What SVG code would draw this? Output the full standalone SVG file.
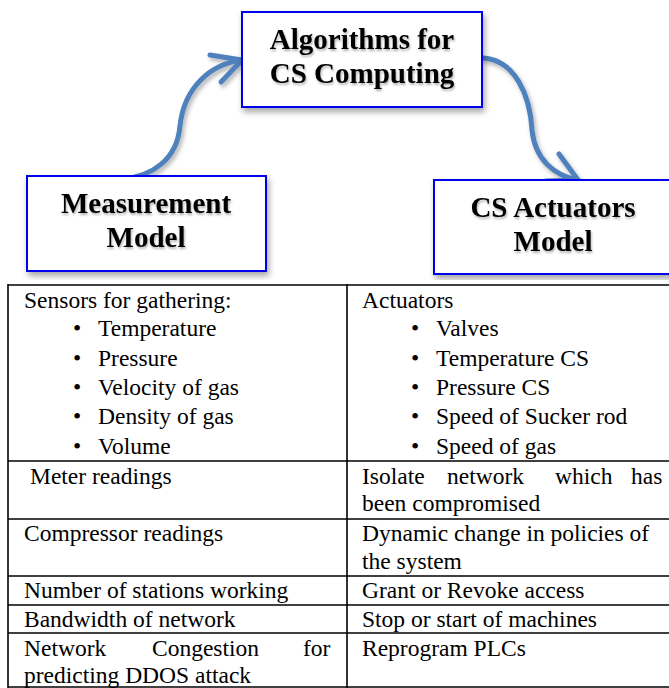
<svg xmlns="http://www.w3.org/2000/svg" width="669" height="688" viewBox="0 0 669 688">
  <defs>
    <filter id="boxShadow" x="-10%" y="-10%" width="125%" height="135%">
      <feDropShadow dx="2" dy="4" stdDeviation="3" flood-color="#000" flood-opacity="0.35"/>
    </filter>
    <filter id="lineShadow" x="-20%" y="-20%" width="140%" height="140%">
      <feDropShadow dx="2" dy="3" stdDeviation="2" flood-color="#000" flood-opacity="0.3"/>
    </filter>
    <filter id="textShadow" x="-5%" y="-20%" width="110%" height="150%">
      <feDropShadow dx="1" dy="2" stdDeviation="1.2" flood-color="#000" flood-opacity="0.3"/>
    </filter>
  </defs>
  <style>
    .box { fill: #ffffff; stroke: #0000ee; stroke-width: 2; }
    .title { font-family: "Liberation Serif", "Times New Roman", serif; font-weight: bold; font-size: 29px; fill: #000; text-anchor: middle; }
    .conn { fill: none; stroke: #4f81bd; stroke-width: 5; stroke-linecap: round; stroke-linejoin: round; }
    .grid { stroke: #000; stroke-width: 1.6; fill: none; }
    .cell { font-family: "Liberation Serif", "Times New Roman", serif; font-size: 23.5px; fill: #000; }
  </style>

  <rect width="669" height="688" fill="#ffffff"/>

  <!-- connectors -->
  <g id="connectors" filter="url(#lineShadow)">
    <path class="conn" d="M123,179 C152,176 177,160 180,126 C184,88 210,64 242,60"/>
    <path class="conn" d="M210,55 L242,60 L221,82"/>
    <path class="conn" d="M483,58 C515,60 530,95 532,130 C535,160 555,176 578,180"/>
    <path class="conn" d="M559,154 L578,180 L546,181"/>
  </g>

  <!-- algorithms node -->
  <g id="node-algorithms">
    <rect class="box" x="242" y="12" width="240" height="95" filter="url(#boxShadow)"/>
    <g filter="url(#textShadow)">
      <text class="title" x="362" y="49">Algorithms for</text>
      <text class="title" x="362" y="83">CS Computing</text>
    </g>
  </g>

  <!-- measurement node -->
  <g id="node-measurement">
    <rect class="box" x="27" y="176" width="239" height="95" filter="url(#boxShadow)"/>
    <g filter="url(#textShadow)">
      <text class="title" x="146" y="213">Measurement</text>
      <text class="title" x="146" y="247">Model</text>
    </g>
  </g>

  <!-- actuators node -->
  <g id="node-actuators">
    <rect class="box" x="434" y="180" width="240" height="94" filter="url(#boxShadow)"/>
    <g filter="url(#textShadow)">
      <text class="title" x="553" y="217">CS Actuators</text>
      <text class="title" x="553" y="251">Model</text>
    </g>
  </g>

  <!-- table -->
  <g id="table">
    <rect x="0" y="280" width="669" height="408" fill="#ffffff"/>
    <line class="grid" x1="8" y1="285" x2="669" y2="285" stroke-width="2.2"/>
    <line class="grid" x1="8" y1="461" x2="669" y2="461"/>
    <line class="grid" x1="8" y1="519" x2="669" y2="519"/>
    <line class="grid" x1="8" y1="576" x2="669" y2="576"/>
    <line class="grid" x1="8" y1="605" x2="669" y2="605"/>
    <line class="grid" x1="8" y1="633" x2="669" y2="633"/>
    <line class="grid" x1="8" y1="687" x2="669" y2="687"/>
    <line class="grid" x1="8" y1="284" x2="8" y2="688" stroke-width="2"/>
    <line class="grid" x1="347" y1="284" x2="347" y2="688"/>

    <g class="cell">
      <text x="24" y="308">Sensors for gathering:</text>
      <text x="73" y="336">•</text><text x="98" y="336">Temperature</text>
      <text x="73" y="366">•</text><text x="98" y="366">Pressure</text>
      <text x="73" y="395">•</text><text x="98" y="395">Velocity of gas</text>
      <text x="73" y="424">•</text><text x="98" y="424">Density of gas</text>
      <text x="73" y="454">•</text><text x="98" y="454">Volume</text>

      <text x="362" y="308">Actuators</text>
      <text x="411" y="336">•</text><text x="436" y="336">Valves</text>
      <text x="411" y="366">•</text><text x="436" y="366">Temperature CS</text>
      <text x="411" y="395">•</text><text x="436" y="395">Pressure CS</text>
      <text x="411" y="424">•</text><text x="436" y="424">Speed of Sucker rod</text>
      <text x="411" y="454">•</text><text x="436" y="454">Speed of gas</text>

      <text x="30" y="484">Meter readings</text>
      <text y="484"><tspan x="362">Isolate</tspan><tspan x="447">network</tspan><tspan x="555">which</tspan><tspan x="631">has</tspan></text>
      <text x="362" y="511">been compromised</text>

      <text x="24" y="541">Compressor readings</text>
      <text x="362" y="541">Dynamic change in policies of</text>
      <text x="362" y="569">the system</text>

      <text x="24" y="598">Number of stations working</text>
      <text x="362" y="598">Grant or Revoke access</text>

      <text x="24" y="627">Bandwidth of network</text>
      <text x="362" y="627">Stop or start of machines</text>

      <text y="656"><tspan x="24">Network</tspan><tspan x="152">Congestion</tspan><tspan x="303">for</tspan></text>
      <text x="24" y="683">predicting DDOS attack</text>
      <text x="362" y="656">Reprogram PLCs</text>
    </g>
  </g>
</svg>
